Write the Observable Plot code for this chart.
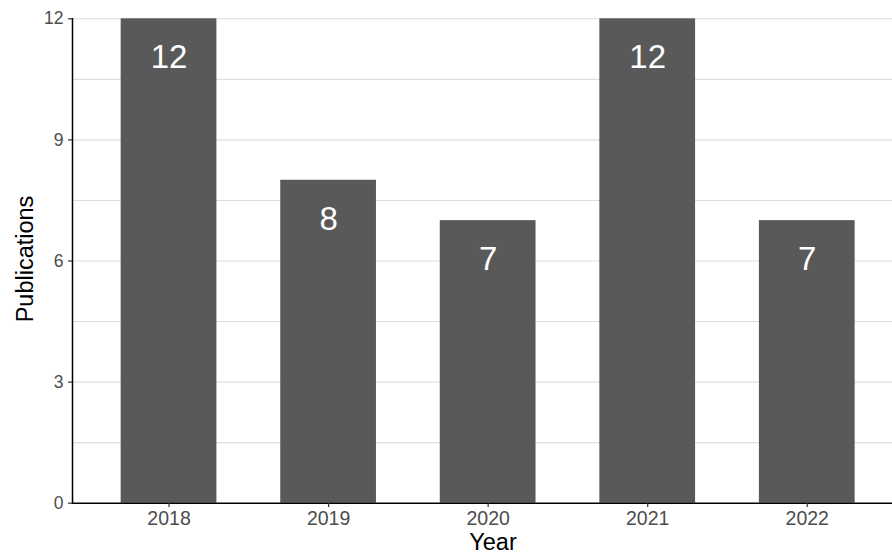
<!DOCTYPE html>
<html>
<head>
<meta charset="utf-8">
<script src="https://cdn.jsdelivr.net/npm/d3@7"></script>
<script src="https://cdn.jsdelivr.net/npm/@observablehq/plot@0.6"></script>
<style>
  html, body { margin: 0; padding: 0; background: #fff; }
  #chart svg { display: block; overflow: hidden; }
</style>
</head>
<body>
<div id="chart"></div>
<script>
const years = ["2018", "2019", "2020", "2021", "2022"];
const publications = [12, 8, 7, 12, 7];
const yTicks = [0, 3, 6, 9, 12];
const yMinor = [1.5, 4.5, 7.5, 10.5];

const data = years.map((y, i) => ({year: y, n: publications[i]}));
const font = "'Liberation Sans', Arial, Helvetica, sans-serif";

const chart = Plot.plot({
  width: 892,
  height: 558,
  marginTop: 18,
  marginBottom: 55,
  marginLeft: 72,
  marginRight: 0,
  style: {fontFamily: font, background: "#fff"},
  x: {domain: years, range: [72.8, 902.5], paddingInner: 0.4, paddingOuter: 0.3, align: 0.5, round: false, label: null},
  y: {domain: [0, 12], range: [502.7, 18.3], label: null},
  marks: [
    Plot.ruleY([...yTicks.filter(d => d > 0), ...yMinor], {stroke: "#dedede", strokeWidth: 1.1}),
    Plot.barY(data, {x: "year", y: "n", fill: "#595959"}),
    Plot.text(data, {x: "year", y: "n", text: d => String(d.n), dy: 39, fill: "#fff", fontSize: 33, lineAnchor: "middle", fontFamily: font}),
    Plot.ruleY([0], {stroke: "#000", strokeWidth: 1.5}),
    Plot.axisY({ticks: yTicks, tickSize: 4, tickPadding: 5, fontSize: 17.5, color: "#4d4d4d", stroke: "#333", strokeWidth: 1.2, label: null}),
    Plot.axisX({tickSize: 4, tickPadding: 4, fontSize: 19.5, color: "#4d4d4d", stroke: "#333", strokeWidth: 1.2, label: null})
  ]
});

const svg = d3.select(chart);
// y axis line
svg.append("line").attr("x1", 72.5).attr("x2", 72.5).attr("y1", 18).attr("y2", 503.5)
  .attr("stroke", "#000").attr("stroke-width", 1.5);
svg.append("text").attr("x", 493).attr("y", 550).attr("text-anchor", "middle")
  .attr("font-family", font).attr("font-size", 23.5).attr("fill", "#000").text("Year");
svg.append("text").attr("transform", "translate(33,259) rotate(-90)").attr("text-anchor", "middle")
  .attr("font-family", font).attr("font-size", 23.5).attr("fill", "#000").text("Publications");

document.getElementById("chart").append(chart);
</script>
</body>
</html>
